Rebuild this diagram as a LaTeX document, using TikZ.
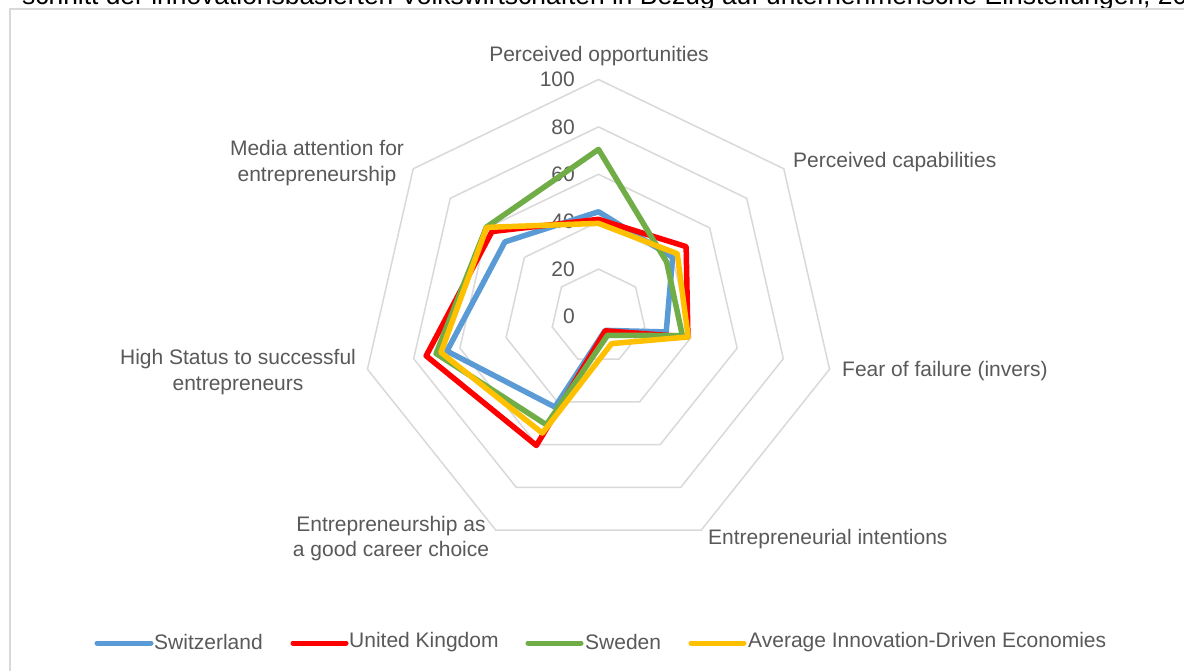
\documentclass[tikz,border=0pt]{standalone}
\usepackage{fontspec}
\setmainfont{Liberation Sans}
\usetikzlibrary{calc}
\definecolor{txt}{HTML}{595959}
\definecolor{gridc}{HTML}{D9D9D9}
\definecolor{sblue}{HTML}{5B9BD5}
\definecolor{sred}{HTML}{FF0000}
\definecolor{sgreen}{HTML}{70AD47}
\definecolor{syellow}{HTML}{FFC000}
\begin{document}
\begin{tikzpicture}[x=1pt,y=-1pt,
  lab/.style={text=txt,font=\fontsize{21}{25.7}\selectfont,inner sep=0pt,align=center},
  ring/.style={draw=gridc,line width=1.5pt},
  series/.style={line width=5.5pt,line join=round},
  legline/.style={line width=5pt,line cap=round}]
\useasboundingbox (0,0) rectangle (1184,671);
\fill[white] (0,0) rectangle (1184,671);
% clipped title line
\node[anchor=base west,inner sep=0pt,font=\fontsize{26.4}{30}\selectfont,text=black] (title) at (22,5)
  {schnitt der innovationsbasierten Volkswirtschaften in Bezug auf unternehmerische Einstellungen, 2014};
% chart frame
\draw[draw=gridc,line width=1.5pt] (10,9) rectangle (1210,700);
\coordinate (C) at (598.5,316.5);
% rings
\foreach \v in {20,40,60,80,100}{
  \draw[ring] ($(C)+(-90:\v*2.37)$)
    \foreach \k in {1,...,6}{ -- ($(C)+({-90+\k*360/7}:{\v*2.37})$) } -- cycle;
}
% tick labels
\foreach \v in {0,20,40,60,80,100}{
  \node[lab,anchor=east] (t\v) at (575,{316.5-\v*2.37}) {\v};
}
% axis labels
\node[lab] (l0) at (599,56) {Perceived opportunities};
\node[lab,anchor=west] (l1) at (793,162) {Perceived capabilities};
\node[lab,anchor=west] (l2) at (842,371) {Fear of failure (invers)};
\node[lab,anchor=west] (l3) at (708,539) {Entrepreneurial intentions};
\node[lab] (l4) at (391,538.5) {Entrepreneurship as\\a good career choice};
\node[lab] (l5) at (238,372) {High Status to successful\\entrepreneurs};
\node[lab] (l6) at (317,163) {Media attention for\\entrepreneurship};
% series points
\foreach \s/\vals in {sw/{44.2,40,29.3,6.5,42.4,65.6,50.5},
                      uk/{41,47.3,38.7,6.7,60.4,74.6,57.5},
                      se/{70.5,36.8,36.3,8.8,50.7,70.3,60.5},
                      av/{39.3,42.5,38.8,12.7,54.6,68.2,60.3}}{
  \foreach \v [count=\i from 0] in \vals {
    \coordinate (\s\i) at ($(C)+({-90+\i*360/7}:{\v*2.37})$);
  }
}
\draw[series,sblue]   (sw0) -- (sw1) -- (sw2) -- (sw3) -- (sw4) -- (sw5) -- (sw6) -- cycle;
\draw[series,sred]    (uk0) -- (uk1) -- (uk2) -- (uk3) -- (uk4) -- (uk5) -- (uk6) -- cycle;
\draw[series,sgreen]  (se0) -- (se1) -- (se2) -- (se3) -- (se4) -- (se5) -- (se6) -- cycle;
\draw[series,syellow] (av0) -- (av1) -- (av2) -- (av3) -- (av4) -- (av5) -- (av6) -- cycle;
% legend
\coordinate (a1) at (97,643);  \coordinate (b1) at (151,643);
\coordinate (a2) at (293,643); \coordinate (b2) at (346,643);
\coordinate (a3) at (528,643); \coordinate (b3) at (581,643);
\coordinate (a4) at (691,643); \coordinate (b4) at (744,643);
\draw[legline,sblue]   (a1) -- (b1);
\draw[legline,sred]    (a2) -- (b2);
\draw[legline,sgreen]  (a3) -- (b3);
\draw[legline,syellow] (a4) -- (b4);
\node[lab,anchor=west] (g1) at (154,642) {Switzerland};
\node[lab,anchor=west] (g2) at (349,642) {United Kingdom};
\node[lab,anchor=west] (g3) at (585,642) {Sweden};
\node[lab,anchor=west] (g4) at (748,642) {Average Innovation-Driven Economies};
\end{tikzpicture}
\end{document}
